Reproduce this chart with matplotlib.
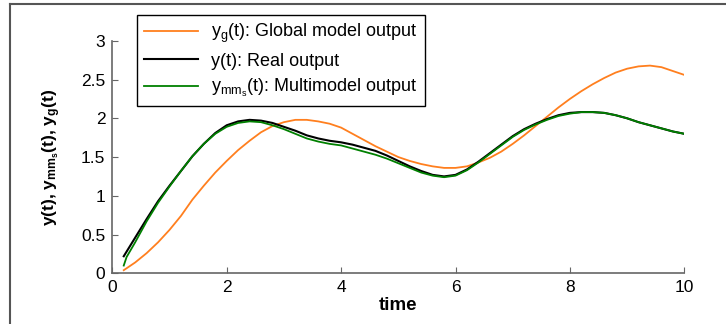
import matplotlib
matplotlib.use("Agg")
import matplotlib.pyplot as plt
from matplotlib.lines import Line2D

plt.rcParams['font.family'] = ['Liberation Sans', 'DejaVu Sans']
plt.rcParams['mathtext.fontset'] = 'custom'
plt.rcParams['mathtext.rm'] = 'Liberation Sans'
plt.rcParams['mathtext.default'] = 'regular'

# temps
t = [0.2, 0.4, 0.6, 0.8, 1.0, 1.2, 1.4, 1.6, 1.8, 2.0,
     2.2, 2.4, 2.6, 2.8, 3.0, 3.2, 3.4, 3.6, 3.8, 4.0,
     4.2, 4.4, 4.6, 4.8, 5.0, 5.2, 5.4, 5.6, 5.8, 6.0,
     6.2, 6.4, 6.6, 6.8, 7.0, 7.2, 7.4, 7.6, 7.8, 8.0,
     8.2, 8.4, 8.6, 8.8, 9.0, 9.2, 9.4, 9.6, 9.8, 10.0]

# y_g(t): modele global
y_global = [0.04, 0.14, 0.26, 0.40, 0.56, 0.74, 0.95, 1.13, 1.30, 1.45,
            1.59, 1.71, 1.82, 1.90, 1.95, 1.98, 1.98, 1.96, 1.93, 1.88,
            1.80, 1.72, 1.64, 1.57, 1.50, 1.45, 1.41, 1.38, 1.36, 1.36,
            1.38, 1.43, 1.49, 1.57, 1.67, 1.78, 1.90, 2.02, 2.14, 2.25,
            2.35, 2.44, 2.52, 2.59, 2.64, 2.67, 2.68, 2.66, 2.61, 2.56]

# y(t): sortie reelle
y_real = [0.22, 0.46, 0.70, 0.93, 1.13, 1.32, 1.51, 1.67, 1.81, 1.91,
          1.96, 1.98, 1.97, 1.94, 1.89, 1.84, 1.78, 1.74, 1.71, 1.69,
          1.66, 1.62, 1.58, 1.52, 1.45, 1.38, 1.32, 1.27, 1.25, 1.27,
          1.34, 1.44, 1.55, 1.66, 1.77, 1.86, 1.93, 1.99, 2.04, 2.07,
          2.08, 2.08, 2.07, 2.04, 2.00, 1.95, 1.91, 1.87, 1.83, 1.80]

# y_mm_s(t): multimodele (un point de plus au debut)
t_mm = [0.2, 0.25] + t[1:]
y_mm = [0.10, 0.21, 0.40, 0.67, 0.91, 1.12, 1.32, 1.51, 1.67, 1.80, 1.89,
        1.94, 1.96, 1.95, 1.91, 1.86, 1.80, 1.74, 1.70, 1.67, 1.65,
        1.61, 1.57, 1.53, 1.48, 1.42, 1.36, 1.30, 1.26, 1.24, 1.26,
        1.33, 1.43, 1.54, 1.65, 1.76, 1.85, 1.92, 1.98, 2.03, 2.06,
        2.08, 2.08, 2.07, 2.04, 2.00, 1.95, 1.91, 1.87, 1.83, 1.80]

W, H = 726, 324
fig = plt.figure(figsize=(W / 100, H / 100), dpi=100)
ax = fig.add_axes([112.3 / W, 1 - 273.3 / H, 572 / W, 232.5 / H])

ax.plot(t, y_global, color='#ff7f1e', lw=1.3, label=r'$y_g$(t): Global model output')
ax.plot(t, y_real, color='black', lw=1.5, label='y(t): Real output')
ax.plot(t_mm, y_mm, color='#008000', lw=1.3, label=r'$y_{mm_s}$(t): Multimodel output')

ax.set_xlim(0, 10)
ax.set_ylim(0, 3)
ax.set_xticks([0, 2, 4, 6, 8, 10])
ax.set_yticks([0, 0.5, 1, 1.5, 2, 2.5, 3])
ax.set_yticklabels(['0', '0.5', '1', '1.5', '2', '2.5', '3'])

for s in ['top', 'right']:
    ax.spines[s].set_visible(False)
for s in ['left', 'bottom']:
    ax.spines[s].set_color('#666666')
    ax.spines[s].set_linewidth(1.2)
ax.tick_params(direction='in', length=4, color='#666666', labelsize=12.5, pad=5)

ax.set_xlabel('time', fontsize=13.5, fontweight='bold', labelpad=1)
ax.set_ylabel(r'y(t), $y_{mm_s}$(t), $y_g$(t)', fontsize=12.5, fontweight='bold', labelpad=13)

leg = ax.legend(loc='upper left', bbox_to_anchor=(137 / W, 1 - 15 / H),
                bbox_transform=fig.transFigure, borderaxespad=0,
                fontsize=13, fancybox=False, framealpha=1, edgecolor='black',
                handlelength=3.0, labelspacing=0.4, borderpad=0.4, handletextpad=0.7)
leg.get_frame().set_linewidth(1.0)

# cadre exterieur (seulement haut et gauche visibles)
fig.add_artist(Line2D([10 / W, 1], [1 - 4 / H, 1 - 4 / H], color='#555555', lw=1.5))
fig.add_artist(Line2D([10 / W, 10 / W], [0, 1 - 4 / H], color='#555555', lw=1.5))

fig.savefig('out.png', dpi=100)
